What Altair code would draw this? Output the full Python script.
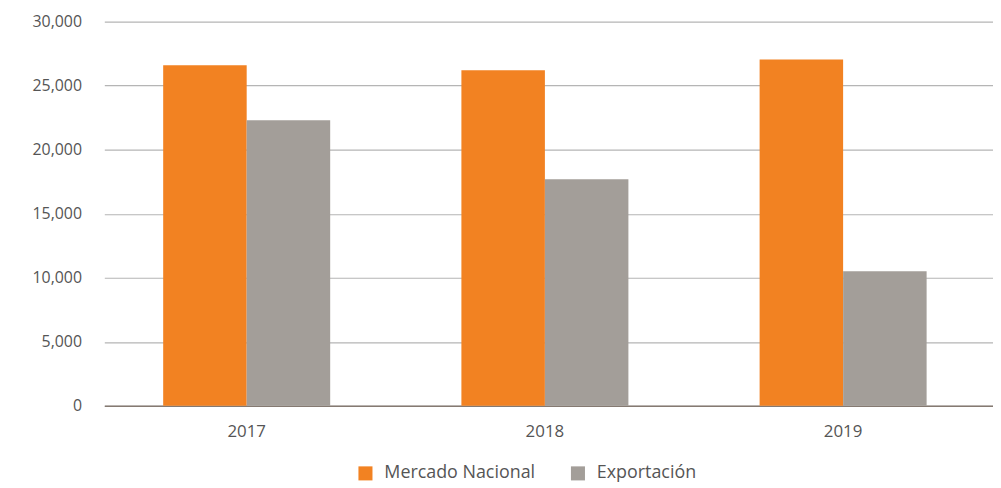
import altair as alt
import pandas as pd

years = ["2017", "2018", "2019"]
series = ["Mercado Nacional", "Exportación"]
mercado = [26600, 26200, 27050]
exportacion = [22300, 17700, 10500]

rows = []
for i, y in enumerate(years):
    rows.append({"year": y, "serie": series[0], "value": mercado[i]})
    rows.append({"year": y, "serie": series[1], "value": exportacion[i]})
df = pd.DataFrame(rows)

font = "Open Sans"
chart = alt.Chart(df).mark_bar().encode(
    x=alt.X("year:N", sort=years, title=None,
            scale=alt.Scale(paddingInner=0.44, paddingOuter=0.21, align=0.47),
            axis=alt.Axis(labelAngle=0, ticks=False, labelPadding=18,
                          labelFontSize=17, labelColor="#555555", labelFont=font,
                          domainColor="#857a72", domainWidth=1.5, grid=False)),
    xOffset=alt.XOffset("serie:N", sort=series),
    y=alt.Y("value:Q", title=None,
            scale=alt.Scale(domain=[0, 30000]),
            axis=alt.Axis(values=[0, 5000, 10000, 15000, 20000, 25000, 30000],
                          format=",.0f", ticks=False, domain=False, labelPadding=23,
                          labelFontSize=16, labelColor="#555555", labelFont=font,
                          gridColor="#b5b5b5", gridWidth=1.2)),
    color=alt.Color("serie:N", sort=series,
                    scale=alt.Scale(domain=series, range=["#F28222", "#A39E99"]),
                    legend=alt.Legend(title=None, orient="none", direction="horizontal",
                                      legendX=254, legendY=446,
                                      symbolType="square", symbolSize=200,
                                      symbolStrokeWidth=0, symbolOpacity=1,
                                      labelFontSize=18, labelColor="#555555",
                                      labelFont=font, columnPadding=34,
                                      labelOffset=10, labelLimit=0)),
).properties(
    width=895, height=387,
    autosize=alt.AutoSizeParams(type="none"),
    padding={"left": 97, "top": 12, "right": 0, "bottom": 78},
).configure_view(stroke=None)

chart.save("out.html", embed_options={"renderer": "svg", "actions": False})
